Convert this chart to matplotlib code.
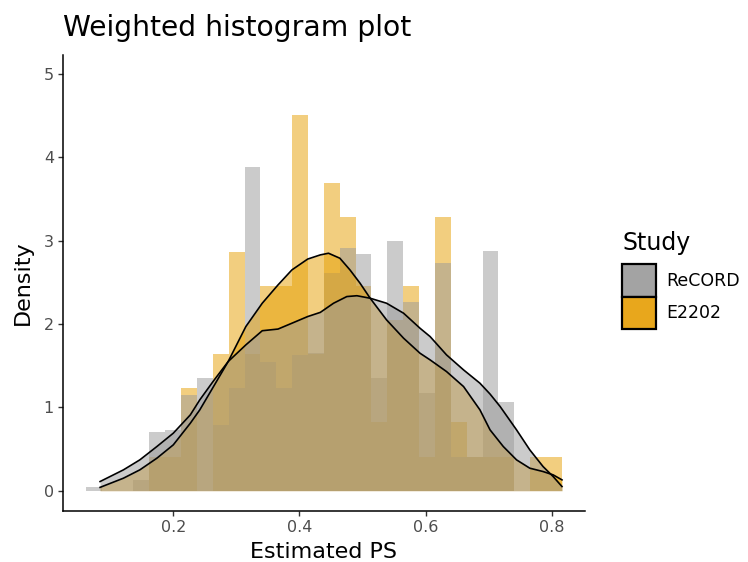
import numpy as np
import matplotlib.pyplot as plt
from matplotlib.patches import Patch

# weighted histogram of estimated propensity scores, two studies
study_names = ["ReCORD", "E2202"]
study_colors = {"ReCORD": "#999999", "E2202": "#E69F00"}

# 30 bins over the PS range
ps_min, ps_max, n_bins = 0.0613, 0.816, 30

record_hist = [0.04, 0.0, 0.0, 0.13, 0.70, 0.73, 1.15, 1.35, 0.79, 1.23,
               3.89, 1.55, 1.23, 1.63, 1.65, 2.61, 2.91, 2.84, 1.35, 3.00,
               2.26, 1.17, 2.73, 0.41, 0.41, 2.88, 1.07, 0.0, 0.0, 0.0]
e2202_hist = [0.0, 0.0, 0.0, 0.0, 0.41, 0.41, 1.23, 0.0, 1.64, 2.87,
              1.64, 2.46, 2.46, 4.51, 1.64, 3.69, 3.28, 2.46, 0.82, 2.05,
              2.46, 0.41, 3.28, 0.82, 0.41, 0.41, 0.41, 0.0, 0.41, 0.41]

# kernel density curves
record_x = [0.084, 0.121, 0.147, 0.174, 0.200, 0.227, 0.242, 0.263, 0.287,
            0.315, 0.341, 0.366, 0.388, 0.413, 0.433, 0.454, 0.475, 0.491,
            0.512, 0.538, 0.565, 0.591, 0.607, 0.633, 0.660, 0.686, 0.702,
            0.718, 0.744, 0.765, 0.786, 0.802, 0.816]
record_y = [0.11, 0.25, 0.37, 0.53, 0.69, 0.91, 1.09, 1.31, 1.55,
            1.75, 1.92, 1.94, 2.01, 2.09, 2.14, 2.25, 2.33, 2.34,
            2.31, 2.25, 2.13, 1.95, 1.85, 1.63, 1.45, 1.29, 1.16,
            1.01, 0.73, 0.49, 0.29, 0.17, 0.05]
e2202_x = [0.084, 0.121, 0.147, 0.174, 0.200, 0.227, 0.242, 0.263, 0.287,
           0.315, 0.341, 0.366, 0.388, 0.413, 0.433, 0.446, 0.464, 0.480,
           0.496, 0.512, 0.538, 0.565, 0.591, 0.607, 0.633, 0.660, 0.686,
           0.702, 0.723, 0.744, 0.765, 0.786, 0.802, 0.816]
e2202_y = [0.04, 0.15, 0.25, 0.39, 0.55, 0.81, 0.97, 1.24, 1.55,
           1.97, 2.25, 2.47, 2.65, 2.78, 2.83, 2.85, 2.79, 2.65,
           2.49, 2.31, 2.05, 1.83, 1.65, 1.57, 1.43, 1.25, 0.97,
           0.73, 0.53, 0.37, 0.27, 0.23, 0.19, 0.13]

plt.rcParams['font.family'] = ['DejaVu Sans']

fig = plt.figure(figsize=(7.48, 5.62), dpi=100)
ax = fig.add_axes([0.0842, 0.0907, 0.6979, 0.8114])

edges = np.linspace(ps_min, ps_max, n_bins + 1)
width = edges[1] - edges[0]

# bars first, then the density areas on top
ax.bar(edges[:-1], e2202_hist, width=width, align='edge',
       color=study_colors["E2202"], alpha=0.5, linewidth=0)
ax.bar(edges[:-1], record_hist, width=width, align='edge',
       color=study_colors["ReCORD"], alpha=0.5, linewidth=0)

ax.fill_between(e2202_x, e2202_y, color=study_colors["E2202"], alpha=0.5, linewidth=0)
ax.plot(e2202_x, e2202_y, color='black', lw=1.2, solid_joinstyle='round')
ax.fill_between(record_x, record_y, color=study_colors["ReCORD"], alpha=0.5, linewidth=0)
ax.plot(record_x, record_y, color='black', lw=1.2, solid_joinstyle='round')

ax.set_xlim(0.0252, 0.8525)
ax.set_ylim(-0.244, 5.229)
ax.set_xticks([0.2, 0.4, 0.6, 0.8])
ax.set_xticklabels(["0.2", "0.4", "0.6", "0.8"])
ax.set_yticks([0, 1, 2, 3, 4, 5])

for side in ['top', 'right']:
    ax.spines[side].set_visible(False)
for side in ['left', 'bottom']:
    ax.spines[side].set_linewidth(1.1)
    ax.spines[side].set_color('black')
ax.tick_params(axis='both', length=3.5, width=1.0, color='#333333',
               labelcolor='#4D4D4D', labelsize=11.5, pad=3)

ax.set_xlabel("Estimated PS", fontsize=16, labelpad=5)
ax.set_ylabel("Density", fontsize=16, labelpad=8)
ax.set_title("Weighted histogram plot", fontsize=20.3, loc='left', pad=14, x=0.0)

handles = [Patch(facecolor="#A3A3A3", edgecolor='black', linewidth=1.6),
           Patch(facecolor="#E8A71C", edgecolor='black', linewidth=1.6)]
leg = ax.legend(handles, study_names, title="Study", loc='center left',
                bbox_to_anchor=(1.071, 0.507), frameon=False, fontsize=12.5,
                title_fontsize=17, handlelength=1.95, handleheight=2.5,
                labelspacing=0.0, handletextpad=0.6, borderpad=0,
                borderaxespad=0)
leg._legend_box.align = 'left'
leg._legend_box.sep = 7  # gap between legend title and keys

fig.savefig("out.png", dpi=100)
